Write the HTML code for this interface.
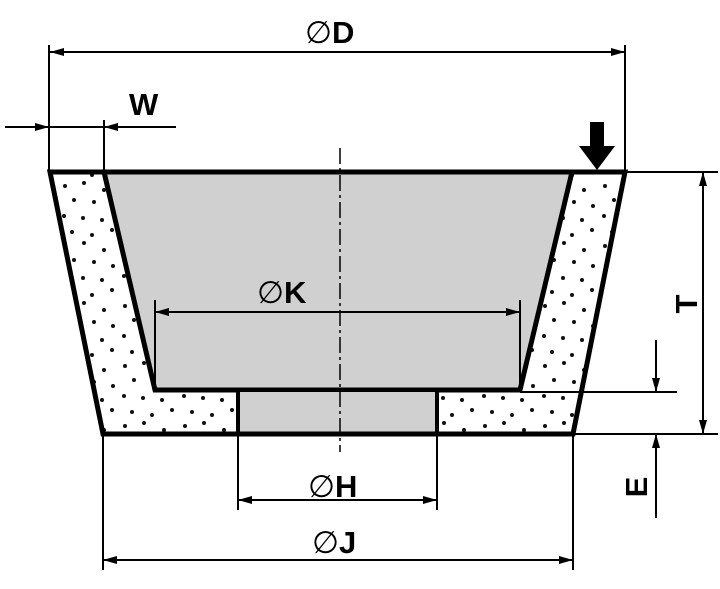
<!DOCTYPE html>
<html><head><meta charset="utf-8"><style>html,body{margin:0;padding:0;background:#fff}svg{display:block}</style></head>
<body>
<svg width="720" height="589" viewBox="0 0 720 589" xmlns="http://www.w3.org/2000/svg" font-family="Liberation Sans, sans-serif" font-weight="bold">
<defs>
<pattern id="dots" width="60" height="60" patternUnits="userSpaceOnUse">
<g fill="#111">
<circle cx="5" cy="6" r="2"/><circle cx="24" cy="3" r="2"/><circle cx="44" cy="10" r="2"/>
<circle cx="14" cy="20" r="2"/><circle cx="34" cy="22" r="2"/><circle cx="53" cy="26" r="2"/>
<circle cx="4" cy="36" r="2"/><circle cx="23" cy="38" r="2"/><circle cx="42" cy="40" r="2"/>
<circle cx="12" cy="52" r="2"/><circle cx="32" cy="55" r="2"/><circle cx="52" cy="50" r="2"/>
</g>
</pattern>
<marker id="ah" viewBox="0 0 14 8" refX="14" refY="4" markerWidth="14" markerHeight="8" markerUnits="userSpaceOnUse" orient="auto-start-reverse"><path d="M0,0 L14,4 L0,8 Z" fill="#000"/></marker>
</defs>
<polygon points="50,172 625,172 573,434 103,434" fill="url(#dots)"/>
<polygon points="104,172 572,172 520,390 155,390" fill="#d0d0d0" stroke="#000" stroke-width="5" stroke-linejoin="miter"/>
<rect x="238" y="390" width="199" height="44" fill="#d0d0d0" stroke="#000" stroke-width="4"/>
<polygon points="50,172 625,172 573,434 103,434" fill="none" stroke="#000" stroke-width="5"/>
<line x1="340" y1="148" x2="340" y2="452" stroke="#000" stroke-width="1.5" stroke-dasharray="16,4,3,4"/>
<g stroke="#000" stroke-width="2" fill="none">
<line x1="49" y1="45" x2="49" y2="172"/><line x1="625" y1="45" x2="625" y2="172"/>
<line x1="50" y1="52" x2="625" y2="52" marker-start="url(#ah)" marker-end="url(#ah)"/>
<line x1="104" y1="120" x2="104" y2="172"/>
<line x1="5" y1="127" x2="49" y2="127" marker-end="url(#ah)"/>
<line x1="176" y1="127" x2="104" y2="127" marker-end="url(#ah)"/>
<line x1="49" y1="127" x2="104" y2="127"/>
<line x1="155" y1="300" x2="155" y2="390"/><line x1="520" y1="300" x2="520" y2="390"/>
<line x1="155" y1="312" x2="520" y2="312" marker-start="url(#ah)" marker-end="url(#ah)"/>
<line x1="238" y1="434" x2="238" y2="510"/><line x1="437" y1="434" x2="437" y2="510"/>
<line x1="238" y1="500" x2="437" y2="500" marker-start="url(#ah)" marker-end="url(#ah)"/>
<line x1="103" y1="434" x2="103" y2="570"/><line x1="573" y1="434" x2="573" y2="570"/>
<line x1="103" y1="560" x2="573" y2="560" marker-start="url(#ah)" marker-end="url(#ah)"/>
<line x1="625" y1="172" x2="718" y2="172"/><line x1="573" y1="434" x2="718" y2="434"/>
<line x1="703" y1="172" x2="703" y2="434" marker-start="url(#ah)" marker-end="url(#ah)"/>
<line x1="520" y1="392" x2="677" y2="392"/>
<line x1="656" y1="340" x2="656" y2="392" marker-end="url(#ah)"/>
<line x1="656" y1="518" x2="656" y2="434" marker-end="url(#ah)"/>
</g>
<polygon points="590,122 604,122 604,146 615,146 597,170 579,146 590,146" fill="#000"/>
<g font-size="31" fill="#000">
<text x="305" y="43"><tspan font-weight="normal">∅</tspan>D</text>
<text x="129" y="115">W</text>
<text x="257" y="303"><tspan font-weight="normal">∅</tspan>K</text>
<text x="308" y="497"><tspan font-weight="normal">∅</tspan>H</text>
<text x="312" y="553"><tspan font-weight="normal">∅</tspan>J</text>
<text transform="translate(697,304) rotate(-90)" text-anchor="middle">T</text>
<text transform="translate(647,487) rotate(-90)" text-anchor="middle">E</text>
</g>
</svg>
</body></html>
